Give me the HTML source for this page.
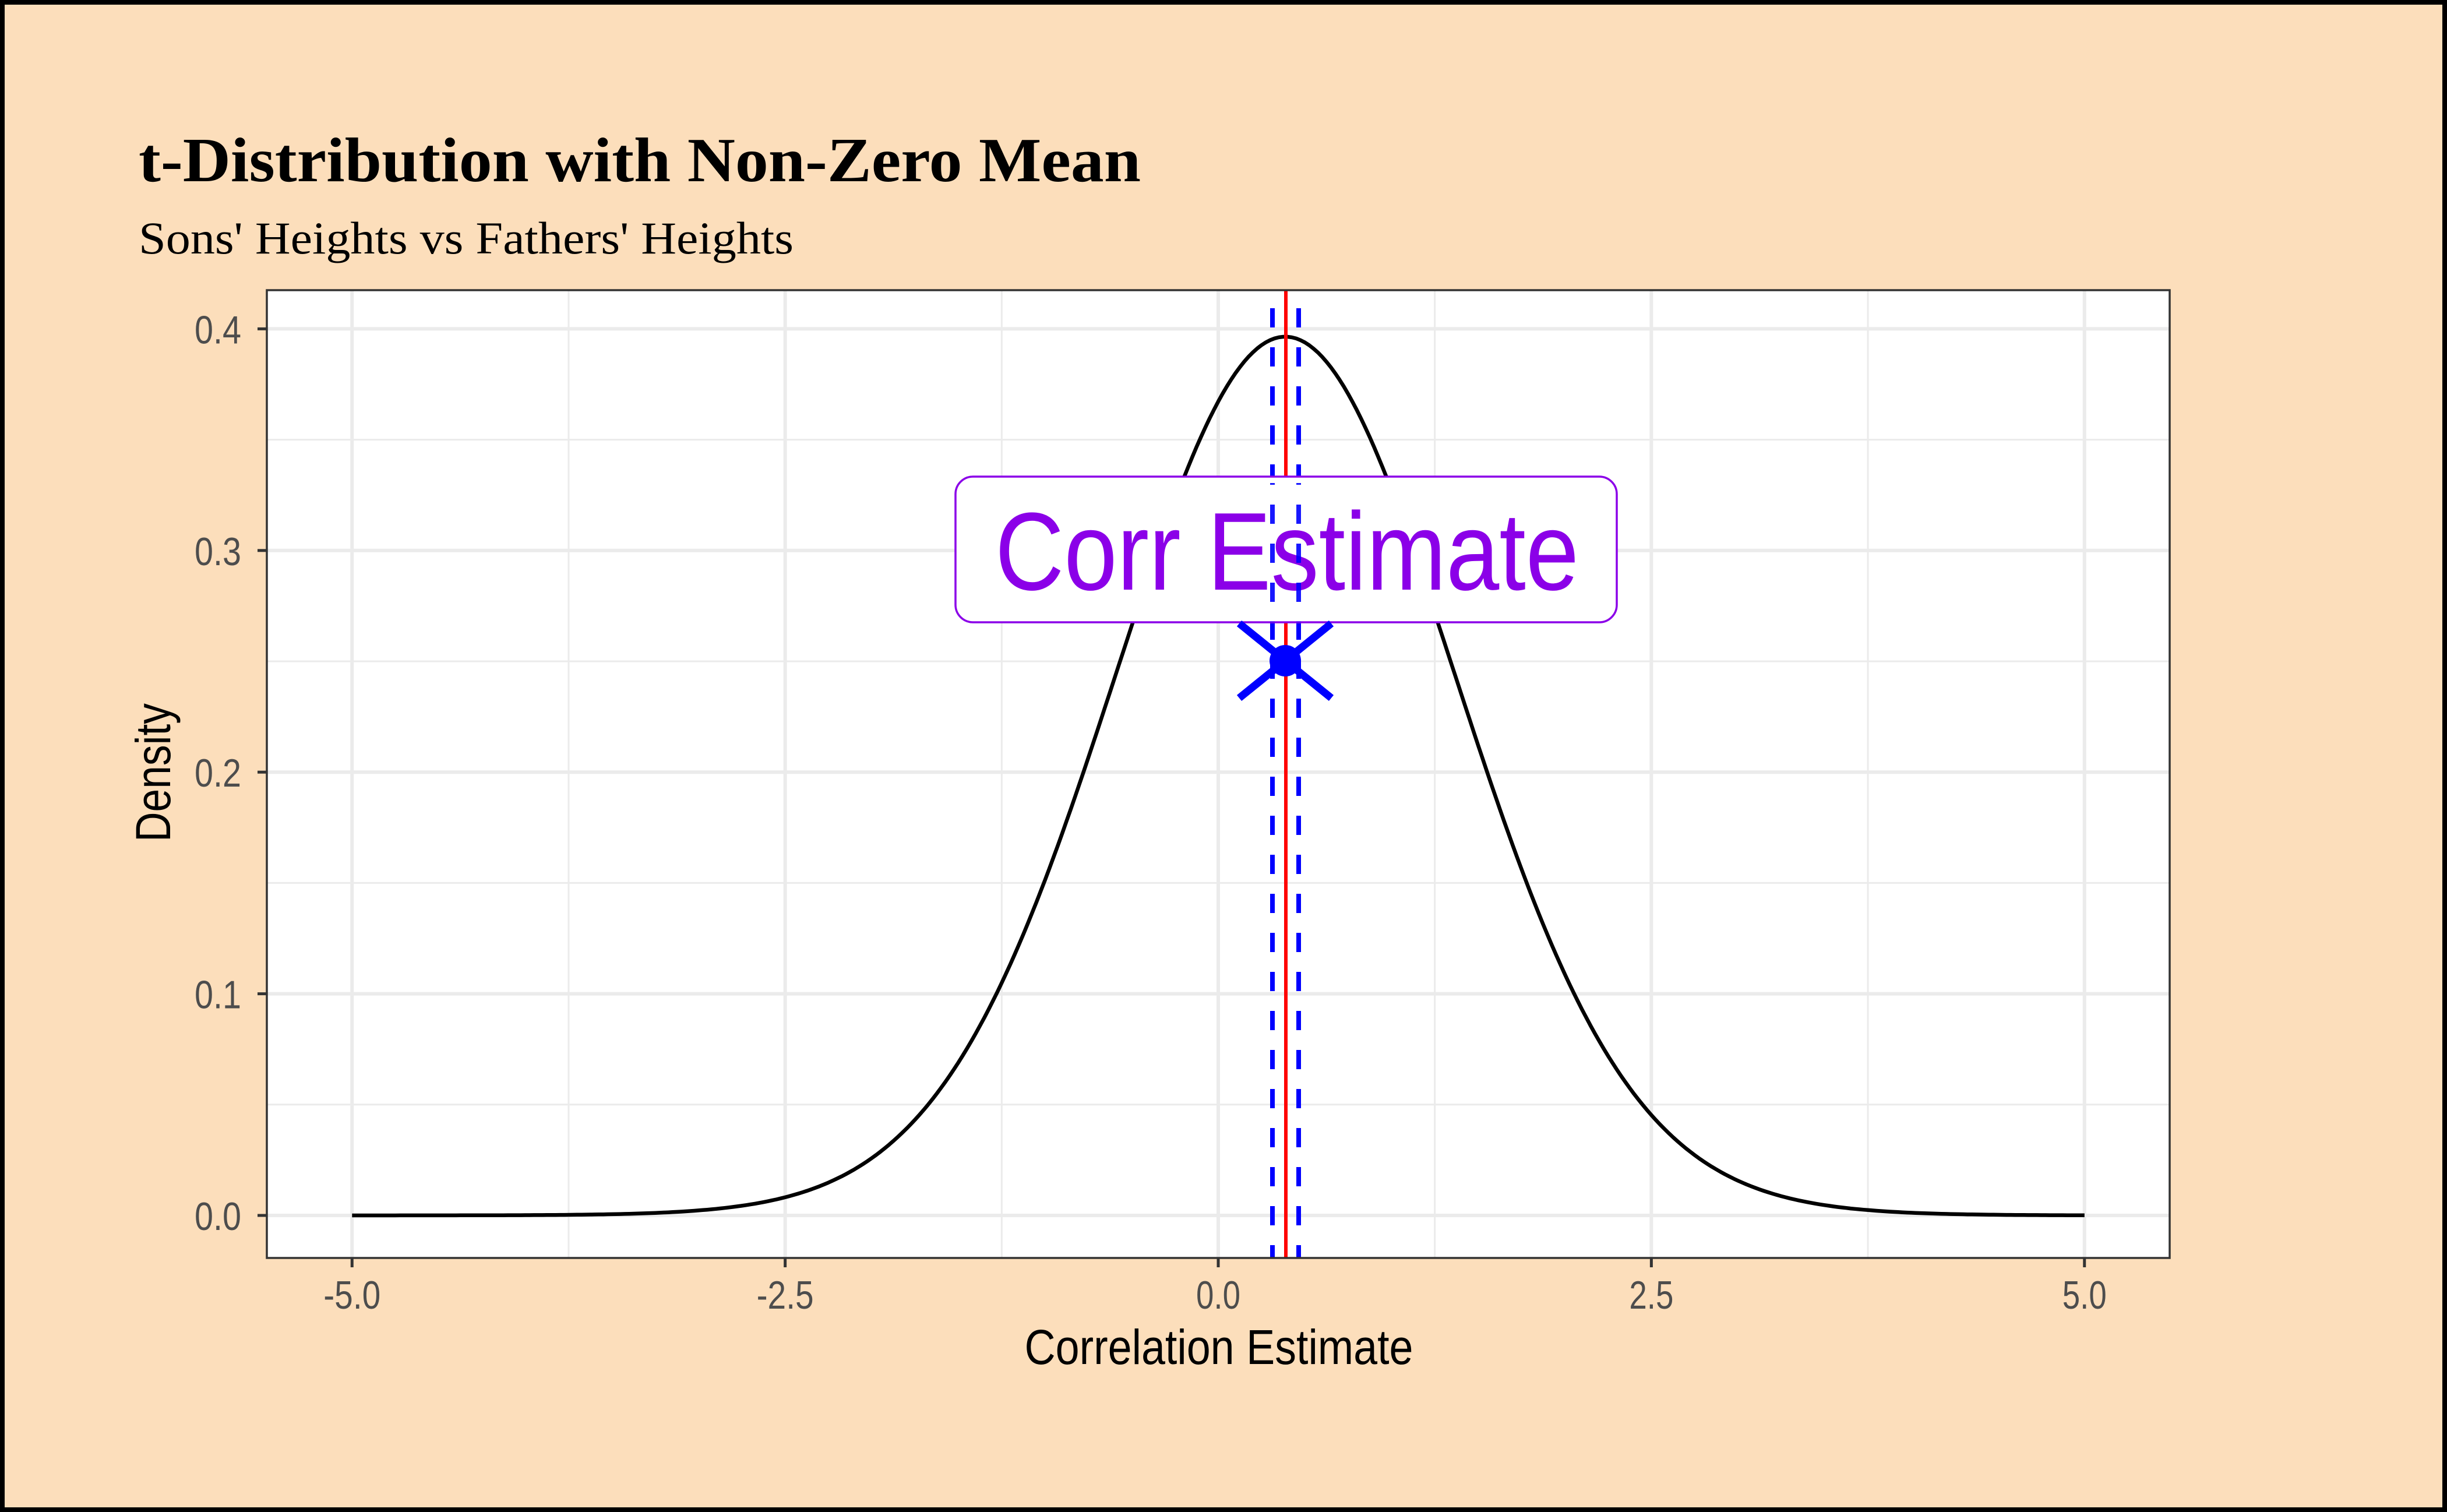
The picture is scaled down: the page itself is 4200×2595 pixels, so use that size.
<!DOCTYPE html>
<html><head><meta charset="utf-8"><style>
html,body{margin:0;padding:0;width:4200px;height:2595px;overflow:hidden;background:#fcdebb}
</style></head><body>
<svg id="s" width="4200" height="2595" viewBox="0 0 4200 2595" xmlns="http://www.w3.org/2000/svg">
<rect x="4" y="4" width="4192" height="2587" fill="#fcdebb" stroke="#000" stroke-width="8"/>
<text x="238" y="311" font-family="Liberation Serif, serif" font-weight="bold" font-size="108" textLength="1720" lengthAdjust="spacingAndGlyphs" fill="#000">t-Distribution with Non-Zero Mean</text>
<text x="238" y="435" font-family="Liberation Serif, serif" font-size="78" textLength="1124" lengthAdjust="spacingAndGlyphs" fill="#000">Sons' Heights vs Fathers' Heights</text>
<rect x="458" y="498" width="3266" height="1661" fill="#fff"/>
<g id="grid" stroke="#ebebeb"></g>
<path id="curve" fill="none" stroke="#000" stroke-width="6.5" stroke-linejoin="round"/>
<line x1="2184" y1="529" x2="2184" y2="2159" stroke="#00f" stroke-width="8" stroke-dasharray="33,34"/>
<line x1="2229" y1="529" x2="2229" y2="2159" stroke="#00f" stroke-width="8" stroke-dasharray="33,34"/>
<line x1="2207" y1="498" x2="2207" y2="2159" stroke="#f00" stroke-width="6"/>
<rect x="1640" y="818" width="1135" height="250" rx="30" ry="30" fill="#fff" stroke="#8b00e8" stroke-width="3.5"/>
<text x="1708" y="1012" font-family="Liberation Sans, sans-serif" font-size="190" textLength="1002" lengthAdjust="spacingAndGlyphs" fill="#8b00e8">Corr Estimate</text>
<line x1="2184" y1="829" x2="2184" y2="1068" stroke="#00f" stroke-width="8" stroke-dasharray="33,34" stroke-dashoffset="30" opacity="0.9"/>
<line x1="2229" y1="829" x2="2229" y2="1068" stroke="#00f" stroke-width="8" stroke-dasharray="33,34" stroke-dashoffset="30" opacity="0.9"/>
<g stroke="#00f" stroke-width="13">
<line x1="2127" y1="1070" x2="2285" y2="1198"/>
<line x1="2285" y1="1070" x2="2127" y2="1198"/>
</g>
<circle cx="2206" cy="1134" r="27" fill="#00f"/>
<rect x="458" y="498" width="3266" height="1661" fill="none" stroke="#333" stroke-width="3.5"/>
<g id="ticks" stroke="#333" stroke-width="5"></g>
<g id="labels" font-family="Liberation Sans, sans-serif" font-size="68" fill="#4d4d4d"></g>
<text x="2092" y="2341" text-anchor="middle" font-family="Liberation Sans, sans-serif" font-size="84" textLength="667" lengthAdjust="spacingAndGlyphs" fill="#000">Correlation Estimate</text>
<text transform="translate(292,1326) rotate(-90)" text-anchor="middle" font-family="Liberation Sans, sans-serif" font-size="84" textLength="238" lengthAdjust="spacingAndGlyphs" fill="#000">Density</text>
</svg>
<script>
var NS="http://www.w3.org/2000/svg";
function X(v){return 2091+v*297.35;}
function Y(d){return 2086-d*3804;}
function el(p,t,a){var e=document.createElementNS(NS,t);for(var k in a)e.setAttribute(k,a[k]);p.appendChild(e);return e;}
var g=document.getElementById('grid');
[-3.75,-1.25,1.25,3.75].forEach(function(v){el(g,'line',{x1:X(v),x2:X(v),y1:498,y2:2159,'stroke-width':3});});
[0.05,0.15,0.25,0.35].forEach(function(v){el(g,'line',{x1:458,x2:3724,y1:Y(v),y2:Y(v),'stroke-width':3});});
[-5,-2.5,0,2.5,5].forEach(function(v){el(g,'line',{x1:X(v),x2:X(v),y1:498,y2:2159,'stroke-width':6});});
[0,0.1,0.2,0.3,0.4].forEach(function(v){el(g,'line',{x1:458,x2:3724,y1:Y(v),y2:Y(v),'stroke-width':6});});
var tk=document.getElementById('ticks'),lb=document.getElementById('labels');
[-5,-2.5,0,2.5,5].forEach(function(v){el(tk,'line',{x1:X(v),x2:X(v),y1:2159,y2:2175});
 var t=el(lb,'text',{x:X(v),y:2246,'text-anchor':'middle',textLength:v<0?98:76,lengthAdjust:'spacingAndGlyphs'});t.textContent=v.toFixed(1);});
[0,0.1,0.2,0.3,0.4].forEach(function(v){el(tk,'line',{x1:442,x2:458,y1:Y(v),y2:Y(v)});
 var t=el(lb,'text',{x:414,y:Y(v)+25,'text-anchor':'end',textLength:80,lengthAdjust:'spacingAndGlyphs'});t.textContent=v.toFixed(1);});
var nu=40;
function lg(z){var c=[76.18009172947146,-86.50532032941677,24.01409824083091,-1.231739572450155,0.1208650973866179e-2,-0.5395239384953e-5];var x=z,y=z,tmp=x+5.5;tmp-=(x+0.5)*Math.log(tmp);var ser=1.000000000190015;for(var j=0;j<6;j++)ser+=c[j]/++y;return -tmp+Math.log(2.5066282746310005*ser/x);}
var C=Math.exp(lg((nu+1)/2)-lg(nu/2))/Math.sqrt(nu*Math.PI);
var d="";for(var i=0;i<=400;i++){var x=-5+i*10/400,t=x-0.387;var p=C*Math.pow(1+t*t/nu,-(nu+1)/2);d+=(i?"L":"M")+X(x).toFixed(1)+","+Y(p).toFixed(1);}
document.getElementById('curve').setAttribute('d',d);
</script>
</body></html>
